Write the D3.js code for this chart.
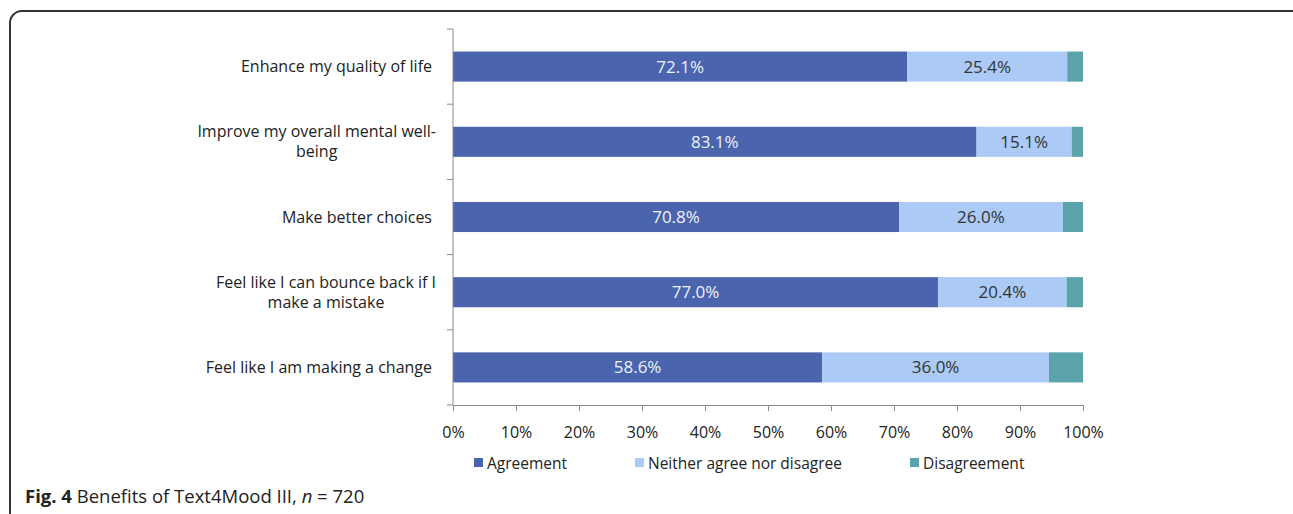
<!DOCTYPE html>
<html>
<head>
<meta charset="utf-8">
<style>
  body { margin: 0; background: #fff; }
  text { font-family: "Open Sans", Lato, sans-serif; }
</style>
</head>
<body>
<svg id="chart" width="1293" height="514" viewBox="0 0 1293 514" xmlns="http://www.w3.org/2000/svg"></svg>
<script src="https://d3js.org/d3.v7.min.js"></script>
<script>

// statements, top to bottom (Excel-style wrapped lines)
const categories = [
  ["Enhance my quality of life"],
  ["Improve my overall mental well-", "being"],
  ["Make better choices"],
  ["Feel like I can bounce back if I", "make a mistake"],
  ["Feel like I am making a change"]
];
const seriesNames = ["Agreement", "Neither agree nor disagree", "Disagreement"];
const agreement = [72.1, 83.1, 70.8, 77.0, 58.6];
const neither   = [25.4, 15.1, 26.0, 20.4, 36.0];
const disagree  = [2.5, 1.8, 3.2, 2.6, 5.4];
const xTicks = [0, 10, 20, 30, 40, 50, 60, 70, 80, 90, 100];

const colors = ["#4a64ad", "#abcaf6", "#5ba3ab"];

const svg = d3.select("#chart");

// outer figure frame (rounded, runs off right/bottom edges)
svg.append("rect")
  .attr("x", 10).attr("y", 11)
  .attr("width", 1300).attr("height", 540)
  .attr("rx", 12)
  .attr("fill", "none")
  .attr("stroke", "#333")
  .attr("stroke-width", 2);

const plot = { left: 453, right: 1083, top: 29, bottom: 405 };

const x = d3.scaleLinear().domain([0, 100]).range([plot.left, plot.right]);
const y = d3.scaleBand()
  .domain(d3.range(categories.length))
  .range([plot.top, plot.bottom])
  .paddingInner(0.6)
  .paddingOuter(0.3);

const rows = categories.map((c, i) => [agreement[i], neither[i], disagree[i]]);
const stacked = d3.stack().keys([0, 1, 2])(rows);

// bars
stacked.forEach((layer, k) => {
  svg.append("g")
    .selectAll("rect")
    .data(layer)
    .join("rect")
    .attr("x", d => x(d[0]))
    .attr("y", (d, i) => y(i))
    .attr("width", d => x(d[1]) - x(d[0]))
    .attr("height", y.bandwidth())
    .attr("fill", colors[k]);
});

// value labels for first two series
[0, 1].forEach(k => {
  svg.append("g")
    .selectAll("text")
    .data(stacked[k])
    .join("text")
    .attr("x", d => (x(d[0]) + x(d[1])) / 2)
    .attr("y", (d, i) => y(i) + y.bandwidth() / 2 + 6)
    .attr("text-anchor", "middle")
    .attr("font-size", "17px")
    .attr("fill", k === 0 ? "#eef2fa" : "#333")
    .text(d => (d[1] - d[0]).toFixed(1) + "%");
});

// y axis with boundary ticks
const axisColor = "#8a8a8a";
svg.append("line")
  .attr("x1", plot.left).attr("x2", plot.left)
  .attr("y1", plot.top).attr("y2", plot.bottom)
  .attr("stroke", axisColor);
d3.range(categories.length + 1).forEach(i => {
  const yy = plot.top + i * (plot.bottom - plot.top) / categories.length;
  svg.append("line")
    .attr("x1", plot.left - 6).attr("x2", plot.left)
    .attr("y1", yy).attr("y2", yy)
    .attr("stroke", axisColor);
});

// x axis
const xAxis = svg.append("g")
  .attr("transform", `translate(0,${plot.bottom})`)
  .call(d3.axisBottom(x).tickValues(xTicks).tickSize(6).tickFormat(d => d + "%"));
xAxis.select(".domain").attr("stroke", axisColor);
xAxis.selectAll(".tick line").attr("stroke", axisColor);
xAxis.selectAll(".tick text")
  .attr("y", 22)
  .attr("font-size", "16px")
  .attr("font-family", "'Open Sans', Lato, sans-serif")
  .attr("fill", "#222");

// category labels
categories.forEach((lines, i) => {
  const cy = y(i) + y.bandwidth() / 2;
  const t = svg.append("text")
    .attr("font-size", "16px")
    .attr("fill", "#222");
  if (lines.length === 1) {
    t.attr("x", 432).attr("y", cy + 5.5).attr("text-anchor", "end").text(lines[0]);
  } else {
    t.attr("text-anchor", "middle");
    const tmp = svg.append("text").attr("font-size", "16px").text(lines[0]);
    const w = tmp.node().getComputedTextLength();
    tmp.remove();
    const cx = 436 - w / 2;
    lines.forEach((ln, j) => {
      t.append("tspan")
        .attr("x", cx)
        .attr("y", cy + 5.5 + (j - (lines.length - 1) / 2) * 20)
        .text(ln);
    });
  }
});

// legend
const legendX = [474, 635, 910];
seriesNames.forEach((name, k) => {
  svg.append("rect")
    .attr("x", legendX[k]).attr("y", 458)
    .attr("width", 9).attr("height", 9)
    .attr("fill", colors[k]);
  svg.append("text")
    .attr("x", legendX[k] + 13).attr("y", 468.5)
    .attr("font-size", "15.5px")
    .attr("fill", "#222")
    .text(name);
});

// caption
const cap = svg.append("text")
  .attr("x", 25).attr("y", 503)
  .attr("font-size", "18.5px")
  .attr("fill", "#222");
cap.append("tspan").attr("font-weight", "bold").text("Fig. 4");
cap.append("tspan").text(" Benefits of Text4Mood III, ");
cap.append("tspan").attr("font-style", "italic").text("n");
cap.append("tspan").text(" = 720");
</script>
</body>
</html>
